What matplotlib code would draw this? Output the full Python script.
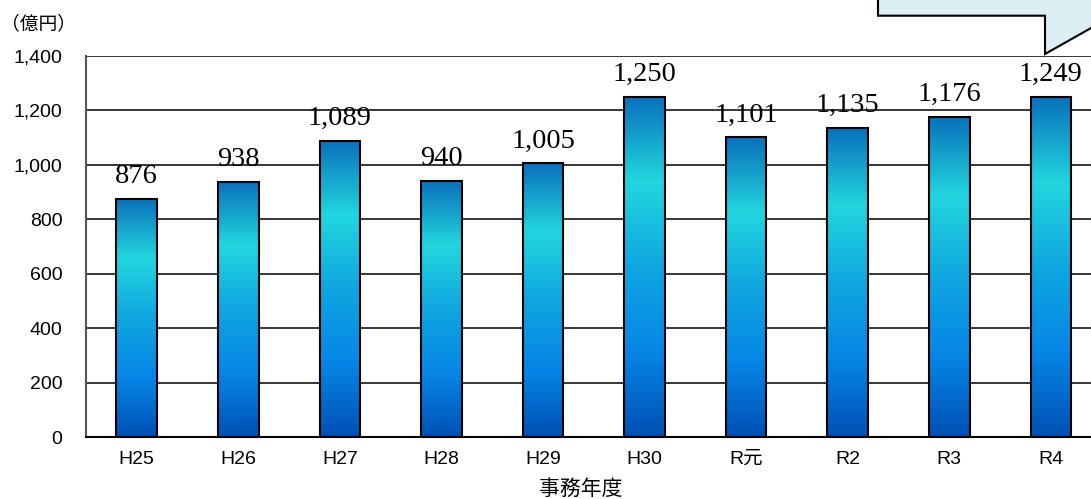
import matplotlib
matplotlib.use("Agg")
import matplotlib.pyplot as plt
import numpy as np
from matplotlib.colors import LinearSegmentedColormap
from matplotlib.patches import Polygon

categories = ["H25", "H26", "H27", "H28", "H29", "H30", "R元", "R2", "R3", "R4"]
values = [876, 938, 1089, 940, 1005, 1250, 1101, 1135, 1176, 1249]
value_labels = ["876", "938", "1,089", "940", "1,005", "1,250", "1,101", "1,135", "1,176", "1,249"]
yticks = [0, 200, 400, 600, 800, 1000, 1200, 1400]
ytick_labels = ["0", "200", "400", "600", "800", "1,000", "1,200", "1,400"]
unit_label = "（億円）"
x_label = "事務年度"

W, H = 1091, 499
fig = plt.figure(figsize=(W / 100, H / 100), dpi=100)
ax = fig.add_axes([86 / W, 62 / H, 1015.6 / W, 381 / H])

ax.set_xlim(-0.5, len(categories) - 0.5)
ax.set_ylim(0, 1400)

for y in yticks[1:]:
    ax.axhline(y, color="black", lw=1.1, zorder=1)

cmap = LinearSegmentedColormap.from_list(
    "barg",
    [(0.0, "#0A70BC"), (0.25, "#22D6DE"), (0.5, "#10A6E0"), (0.75, "#0686E6"), (1.0, "#0050B4")],
)
grad = np.linspace(0, 1, 256).reshape(-1, 1)

x = np.arange(len(categories))
bars = ax.bar(x, values, width=0.40, color="none", edgecolor="black", linewidth=1.5, zorder=3)
for b in bars:
    bx, by, bw, bh = b.get_x(), b.get_y(), b.get_width(), b.get_height()
    im = ax.imshow(grad, cmap=cmap, aspect="auto", extent=[bx, bx + bw, by, by + bh],
                   origin="upper", zorder=2, interpolation="bilinear")
    im.set_clip_path(b)

for xi, v, lab in zip(x, values, value_labels):
    ax.annotate(lab, (xi, v), xytext=(0, 7), textcoords="offset points",
                ha="center", va="bottom", family="Liberation Serif", fontsize=20.5)

ax.set_yticks(yticks)
ax.set_yticklabels(ytick_labels, family="Liberation Sans", fontsize=14)
ax.set_xticks(x)
ax.set_xticklabels(categories, family=["Liberation Sans", "Noto Sans CJK JP"], fontsize=14)
ax.tick_params(axis="both", length=0)
ax.tick_params(axis="y", pad=17)
ax.tick_params(axis="x", pad=10)

for s in ["top", "right"]:
    ax.spines[s].set_visible(False)
ax.spines["left"].set_color("#555555")
ax.spines["left"].set_linewidth(1.5)
ax.spines["bottom"].set_color("black")
ax.spines["bottom"].set_linewidth(1.5)

fig.text(1 / W, 1 - 24 / H, unit_label, family="Noto Sans CJK JP", fontsize=13.5,
         ha="left", va="center")
fig.text(581 / W, 1 - 489 / H, x_label, family="Noto Sans CJK JP", fontsize=15,
         ha="center", va="center")

# callout (cut-off speech bubble, top right)
pts_px = [(878, -5), (878, 15.7), (1045, 15.7), (1045, 54), (1100, 23), (1100, -5)]
pts = [(px / W, 1 - py / H) for px, py in pts_px]
fig.patches.append(Polygon(pts, closed=True, transform=fig.transFigure,
                           facecolor="#DAEEF3", edgecolor="black", linewidth=1.5, zorder=5))

fig.savefig("out.png", dpi=100)
